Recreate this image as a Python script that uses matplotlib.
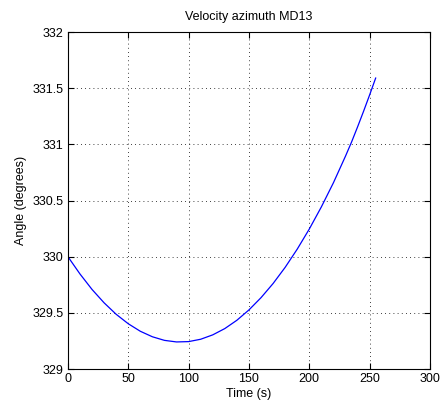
import matplotlib
matplotlib.use('Agg')
import matplotlib.pyplot as plt

# time (s) and velocity azimuth (degrees)
time_s = [0, 10, 20, 30, 40, 50, 60, 70, 80, 90, 100, 110, 120, 130,
          140, 150, 160, 170, 180, 190, 200, 210, 220, 230, 235, 240,
          245, 250, 255]
angle_deg = [330.00, 329.846, 329.708, 329.589, 329.487, 329.403, 329.336,
             329.287, 329.255, 329.241, 329.244, 329.265, 329.304, 329.360,
             329.434, 329.526, 329.635, 329.761, 329.905, 330.067, 330.246,
             330.443, 330.658, 330.895, 331.02, 331.155, 331.295, 331.44,
             331.59]

xticks = [0, 50, 100, 150, 200, 250, 300]
yticks = [329, 329.5, 330, 330.5, 331, 331.5, 332]
ytick_labels = ['329', '329.5', '330', '330.5', '331', '331.5', '332']

plt.rcParams['font.family'] = ['Liberation Sans', 'DejaVu Sans']

fig = plt.figure(figsize=(4.41, 4.13), dpi=100)
ax = fig.add_axes([0.154, 0.1065, 0.821, 0.816])

ax.plot(time_s, angle_deg, color='#0000ff', linewidth=0.9)

ax.set_xlim(0, 300)
ax.set_ylim(329, 332)
ax.set_xticks(xticks)
ax.set_yticks(yticks)
ax.set_yticklabels(ytick_labels)
ax.grid(True, color='black', linestyle=(0, (1, 4)), linewidth=0.6)
ax.tick_params(direction='in', top=True, right=True, labelsize=9, length=4, pad=3)
for sp in ax.spines.values():
    sp.set_linewidth(0.8)

ax.set_xlabel('Time (s)', fontsize=9, labelpad=2)
ax.set_ylabel('Angle (degrees)', fontsize=9, labelpad=4)
ax.set_title('Velocity azimuth MD13', fontsize=9, pad=9)

fig.savefig('out.png', dpi=100)
